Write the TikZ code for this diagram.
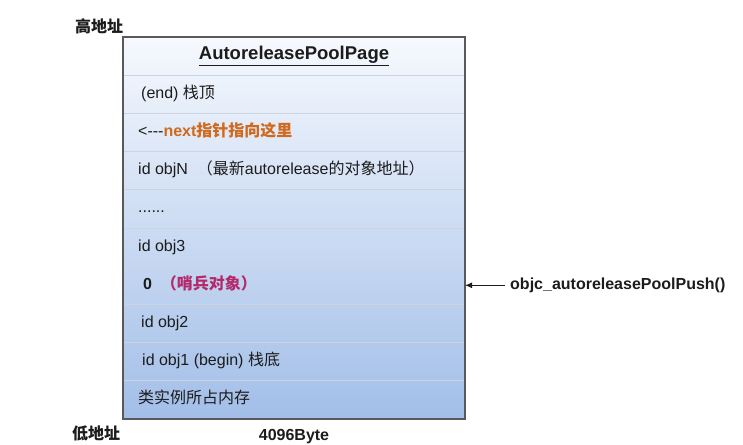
\documentclass[tikz,border=0pt]{standalone}
\usepackage{fontspec}
\setmainfont{Liberation Sans}
\newfontfamily\cjk{Noto Sans CJK SC}
\usetikzlibrary{arrows.meta}
\definecolor{ctop}{HTML}{F6F9FE}
\definecolor{cbot}{HTML}{A2BEE8}
\definecolor{sepc}{HTML}{CDD4DE}
\definecolor{edgec}{HTML}{595959}
\definecolor{txt}{HTML}{1C1C1C}
\definecolor{nextc}{HTML}{D0691C}
\definecolor{sentc}{HTML}{B32A6C}
\begin{document}
\begin{tikzpicture}[x=1pt,y=-1pt,
  rowbox/.style={rectangle, minimum width=342pt, minimum height=38.2pt, inner sep=0pt, outer sep=0pt, draw=sepc, line width=0.9pt},
  lbl/.style={anchor=west, inner sep=0pt, text=txt, font=\fontsize{16}{19}\selectfont, text height=11.5pt, text depth=3.5pt},
  side/.style={inner sep=0pt, text=txt, font=\fontsize{16}{19}\selectfont\bfseries}]
\useasboundingbox (0,0) rectangle (743,444);
\foreach \k in {0,...,9}{
  \pgfmathtruncatemacro\a{10*\k}
  \pgfmathtruncatemacro\b{10*\k+10}
  \node[rowbox, top color=cbot!\a!ctop, bottom color=cbot!\b!ctop] (r\k) at (294,{37+38.2*(\k+0.5)}) {};
}
\draw[edgec, line width=1.2pt] (r0.north west) rectangle (r9.south east);
\node[inner sep=0pt, text=txt, font=\fontsize{18.5}{22}\selectfont\bfseries] (title) at (r0.center) {\underline{AutoreleasePoolPage}};
\node[lbl] (t1) at ([xshift=18pt]r1.west) {(end) {\cjk 栈顶}};
\node[lbl] (t2) at ([xshift=15pt]r2.west) {<-{}-{}-\textcolor{nextc}{\bfseries next{\cjk 指针指向这里}}};
\node[lbl] (t3) at ([xshift=15pt]r3.west) {id objN\ \ {\cjk （最新}autorelease{\cjk 的对象地址）}};
\node[lbl] (t4) at ([xshift=15pt]r4.west) {......};
\node[lbl] (t5) at ([xshift=15pt]r5.west) {id obj3};
\node[lbl] (t6) at ([xshift=20pt]r6.west) {\bfseries 0\ \ \textcolor{sentc}{\cjk （哨兵对象）}};
\node[lbl] (t7) at ([xshift=18pt]r7.west) {id obj2};
\node[lbl] (t8) at ([xshift=19pt]r8.west) {id obj1 (begin) {\cjk 栈底}};
\node[lbl] (t9) at ([xshift=15pt]r9.west) {\cjk 类实例所占内存};
\node[side, anchor=west] (high) at (75,26) {\cjk\bfseries 高地址};
\node[side, anchor=west] (low) at (72,433) {\cjk\bfseries 低地址};
\node[side, anchor=base] (size) at (294,440) {4096Byte};
\node[side, anchor=west, inner xsep=5pt, text height=11.5pt, text depth=3.5pt] (push) at (505,285.3) {objc\_autoreleasePoolPush()};
\draw[-{Latex[length=7pt,width=6pt]}, line width=1pt, txt] (push.west) -- (push.west -| r6.east);
\end{tikzpicture}
\end{document}
